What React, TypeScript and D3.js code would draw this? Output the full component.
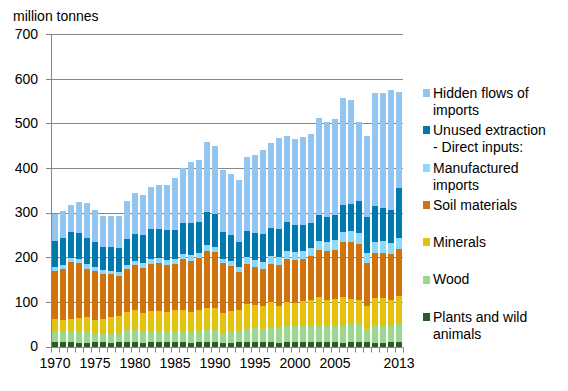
import React from "react";
import * as d3 from "d3";

const years: number[] = d3.range(1970, 2014);

const plants = [10,10,10,8,8,10,10,8,10,10,10,8,10,10,10,10,10,8,10,10,10,8,8,10,10,10,10,10,8,10,10,10,10,10,10,10,8,10,10,10,8,8,10,10];
const wood = [24,24,24,26,24,18,19,20,20,27,27,27,25,25,25,25,22,24,25,27,27,22,24,25,29,34,29,31,36,36,36,36,38,38,38,38,38,40,43,29,38,38,36,40];
const minerals = [28,25,28,30,34,31,33,38,38,40,45,40,45,45,42,47,50,45,47,49,49,45,48,47,56,49,52,59,47,54,51,56,56,63,56,58,65,56,51,52,63,63,58,63];
const soil = [107,115,127,123,108,110,100,96,90,97,101,101,105,107,106,103,114,114,116,128,126,112,100,85,90,85,83,85,92,96,97,94,99,105,110,110,123,128,126,96,101,101,103,105];
const manufactured = [9,9,9,9,11,9,9,7,9,9,9,11,11,11,11,11,11,14,11,14,11,9,12,11,15,16,15,18,17,18,18,18,18,20,20,23,22,25,24,22,24,26,25,25];
const unused = [58,60,58,58,58,56,53,55,54,58,60,63,67,65,67,65,70,72,70,73,74,61,58,56,59,60,63,63,63,65,60,58,56,59,56,56,61,60,72,81,80,75,74,112];
const hidden = [61,61,61,70,78,72,68,68,71,85,92,89,94,99,101,116,123,136,139,157,152,138,136,139,165,175,188,190,204,192,193,197,199,217,213,215,240,233,177,182,254,257,268,215];

const seriesNames = ["Plants and wild animals","Wood","Minerals","Soil materials","Manufactured imports","Unused extraction - Direct inputs:","Hidden flows of imports"];
const seriesValues = [plants, wood, minerals, soil, manufactured, unused, hidden];
const seriesColors = ["#275e24","#9bd88f","#e4c10b","#d1730d","#8dd9fb","#0079ad","#92c5f0"];

const legendLines: string[][] = [
  ["Hidden flows of","imports"],
  ["Unused extraction","- Direct inputs:"],
  ["Manufactured","imports"],
  ["Soil materials"],
  ["Minerals"],
  ["Wood"],
  ["Plants and wild","animals"],
];
const legendColorIdx = [6,5,4,3,2,1,0];

const yTicks = [0,100,200,300,400,500,600,700];
const xLabelYears = [1970,1975,1980,1985,1990,1995,2000,2005,2013];

const W = 568, H = 391;
const left = 51, right = 403, top = 34, bottom = 346.5;
const font = "Arial, 'Liberation Sans', sans-serif";

export default function App() {
  const x = d3.scaleBand<number>().domain(years).range([left, right]).paddingInner(0.25).paddingOuter(0.125);
  const y = d3.scaleLinear().domain([0, 700]).range([bottom, top]);

  const table = years.map((yr, i) => {
    const o: any = { year: yr };
    seriesNames.forEach((n, k) => (o[n] = seriesValues[k][i]));
    return o;
  });
  const stack = d3.stack<any>().keys(seriesNames)(table);
  const axisY = Math.round(y(0)) + 0.5;
  const step = x.step();
  const gray = "#878787";

  return (
    <svg width={W} height={H} style={{ position: "absolute", left: 0, top: 0 }} fontFamily={font}>
      <rect width={W} height={H} fill="#fff" />
      {yTicks.filter(t => t > 0).map(t => (
        <line key={"g" + t} x1={left - 5} x2={right} y1={Math.round(y(t)) + 0.5} y2={Math.round(y(t)) + 0.5} stroke={gray} strokeWidth={1} />
      ))}
      <g shapeRendering="crispEdges">
        {stack.map((s, k) => (
          <g key={k} fill={seriesColors[k]}>
            {s.map((d, i) => (
              <rect key={i} x={x(years[i])} width={x.bandwidth()} y={y(d[1])} height={y(d[0]) - y(d[1])} />
            ))}
          </g>
        ))}
      </g>
      <line x1={left + 0.5} x2={left + 0.5} y1={top} y2={axisY} stroke={gray} />
      <line x1={left - 5} x2={right} y1={axisY} y2={axisY} stroke={gray} />
      {d3.range(years.length + 1).map(i => (
        <line key={"xt" + i} x1={Math.round(left + i * step) + 0.5} x2={Math.round(left + i * step) + 0.5} y1={axisY} y2={axisY + 5} stroke={gray} />
      ))}
      {yTicks.map(t => (
        <text key={"yl" + t} x={38} y={y(t)} dy="0.35em" textAnchor="end" fontSize={14} fill="#000">{t}</text>
      ))}
      {xLabelYears.map(yr => (
        <text key={"xl" + yr} x={(x(yr) as number) + x.bandwidth() / 2} y={368} textAnchor="middle" fontSize={14} fill="#000">{yr}</text>
      ))}
      <text x={13} y={21} fontSize={14} fill="#000">million tonnes</text>
      {legendLines.map((lines, j) => {
        const cy = 93 + j * 37.3;
        return (
          <g key={"lg" + j}>
            <rect x={423} y={Math.round(cy) - 4} width={7} height={8} fill={seriesColors[legendColorIdx[j]]} />
            {lines.map((ln, m) => (
              <text key={m} x={433} y={cy + m * 17} dy="0.35em" fontSize={14} fill="#000">{ln}</text>
            ))}
          </g>
        );
      })}
    </svg>
  );
}
